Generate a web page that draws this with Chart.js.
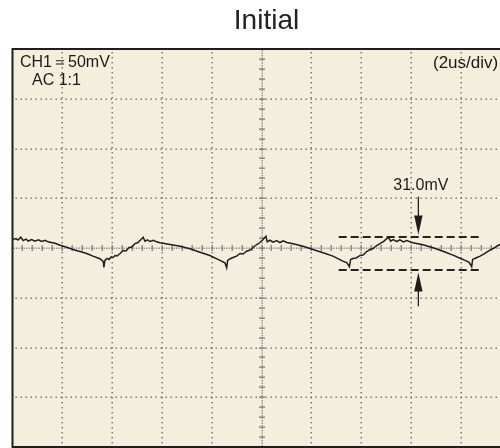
<!DOCTYPE html>
<html>
<head>
<meta charset="utf-8">
<script src="https://cdn.jsdelivr.net/npm/chart.js@4.4.1/dist/chart.umd.min.js"></script>
<style>
  html, body { margin: 0; padding: 0; background: #fff; overflow: hidden; }
  #wrap { width: 530px; height: 448px; }
</style>
</head>
<body>
<div id="wrap"><canvas id="scope" width="530" height="448"></canvas></div>
<script>
// time axis in us (2us/div), voltage in mV (50mV/div)
const timeUs = [
    0.03, 0.14, 0.22, 0.33, 0.43, 0.54, 0.63, 0.77, 0.90, 1.04, 1.17, 1.31, 1.43, 1.51, 1.71, 1.91,
    2.18, 2.43, 2.71, 2.98, 3.23, 3.51, 3.65, 3.67, 3.71,
    3.80, 3.88, 3.96, 4.04, 4.12, 4.20, 4.32, 4.44, 4.56, 4.68, 4.80, 4.92, 5.04, 5.16, 5.25,
    5.32, 5.42, 5.52, 5.66, 5.79, 5.92, 6.33, 6.73, 7.13, 7.53, 7.93, 8.25, 8.53, 8.60, 8.64,
    8.73, 8.86, 9.00, 9.14, 9.26, 9.40, 9.54, 9.66, 9.81, 9.94, 10.06, 10.18,
    10.23, 10.34, 10.47, 10.61, 10.74, 10.87, 11.02, 11.27, 11.67, 12.07, 12.47, 12.87, 13.27, 13.43, 13.53, 13.58,
    13.67, 13.80, 13.96, 14.08, 14.20, 14.36, 14.48, 14.60, 14.76, 14.92, 15.09,
    15.19, 15.29, 15.43, 15.56, 15.70, 15.83, 16.08, 16.49, 16.89, 17.29, 17.69, 18.09, 18.34, 18.44, 18.48,
    18.61, 18.78, 18.94, 19.06, 19.18, 19.34, 19.46, 19.58, 19.78, 19.98
];
const voltageMv = [
    8.5, 9.5, 8, 10.8, 7.5, 9, 7, 8.5, 6.8, 8.2, 6.5, 7.7, 6.2, 5.8, 4.8, 2.8,
    0.8, -1.5, -3.5, -5.5, -8.2, -10.8, -13.8, -19.5, -12.5,
    -10.5, -11.5, -9, -9.5, -7.5, -8, -5.5, -2.5, -3, 0.5, 1, 4.5, 5.5, 8.5, 10.8,
    6.8, 8.2, 6.5, 7.8, 6.2, 5.2, 3.5, 1.8, -0.8, -4.2, -7.5, -11.5, -14.8, -19.8, -12.5,
    -11, -9.5, -8.2, -5.5, -6, -3.2, -2, 0.5, 3.5, 5.5, 8.5, 11.8,
    6.2, 7.8, 5.8, 7.5, 5.5, 7.2, 5.5, 4.2, 1.8, -1.5, -4.8, -8.2, -13.2, -15, -18.8, -11.5,
    -10.5, -10, -7.5, -7, -4, -1.5, -0.5, 2, 4.5, 7, 10.8,
    6.8, 8.5, 6.5, 8.2, 6.2, 7.5, 5.2, 3.2, 0.2, -3.2, -7.2, -11.5, -14.5, -18.8, -11.5,
    -10, -8.2, -6, -4, -2.2, 0, 2, 3.5, 7.5, 10.5
];

// screen divisions
const xDivs = [0, 2, 4, 6, 8, 10, 12, 14, 16, 18, 20];
const yDivs = [-200, -150, -100, -50, 0, 50, 100, 150, 200];

// peak-to-peak cursor
const cursorStart = 13.1;
const cursorEnd = 18.8;
const cursorTop = 11;
const cursorBottom = -22;
const arrowX = 16.3;
const arrowDown = [51.6, 13.5];
const arrowUp = [-58.6, -24.5];
const ppLabel = '31.0mV';
const ppLabelPos = [16.4, 58.5];

const titleText = 'Initial';
const channelText = ['CH1\uFF1D50mV', 'AC 1:1'];
const timebaseText = '(2us/div)';

const FONT = '"Liberation Sans", Arial, Helvetica, sans-serif';

const scopePlugin = {
    id: 'scope',
    beforeDatasetsDraw(chart) {
        const { ctx, chartArea: a, scales: { x, y } } = chart;
        ctx.save();
        ctx.fillStyle = '#f4eedd';
        ctx.fillRect(a.left, a.top, a.right - a.left, a.bottom - a.top);

        // dotted division lines
        ctx.fillStyle = '#6a6a6a';
        xDivs.slice(1, -1).forEach(v => {
            if (v === 10) return;
            const px = Math.round(x.getPixelForValue(v));
            for (let py = a.top + 3; py < a.bottom; py += 5) ctx.fillRect(px - 0.5, py, 1.4, 1.4);
        });
        yDivs.slice(1, -1).forEach(v => {
            if (v === 0) return;
            const py = Math.round(y.getPixelForValue(v));
            for (let px = a.left + 3; px < a.right; px += 5) ctx.fillRect(px, py - 0.5, 1.4, 1.4);
        });

        // centre axes with fine ticks
        const cx = Math.round(x.getPixelForValue(10));
        const cy = Math.round(y.getPixelForValue(0));
        ctx.fillStyle = '#8a8a8a';
        for (let py = a.top + 1; py < a.bottom; py += 2.5) ctx.fillRect(cx - 0.5, py, 1.4, 1.4);
        for (let px = a.left + 1; px < a.right; px += 2.5) ctx.fillRect(px, cy - 0.5, 1.4, 1.4);
        ctx.strokeStyle = '#777';
        ctx.lineWidth = 1.2;
        ctx.beginPath();
        for (let t = 0.4; t < 20; t += 0.4) {
            const px = Math.round(x.getPixelForValue(t)) + 0.2;
            ctx.moveTo(px, cy - 3);
            ctx.lineTo(px, cy + 3);
        }
        for (let m = -190; m < 200; m += 10) {
            const py = Math.round(y.getPixelForValue(m)) + 0.2;
            ctx.moveTo(cx - 3, py);
            ctx.lineTo(cx + 3, py);
        }
        ctx.stroke();
        ctx.restore();
    },
    afterDatasetsDraw(chart) {
        const { ctx, chartArea: a, scales: { x, y } } = chart;
        ctx.save();

        // arrows
        ctx.strokeStyle = '#1e1e1e';
        ctx.fillStyle = '#1e1e1e';
        ctx.lineWidth = 1.3;
        const ax = x.getPixelForValue(arrowX);
        [arrowDown, arrowUp].forEach(([from, to]) => {
            const p0 = y.getPixelForValue(from);
            const p1 = y.getPixelForValue(to);
            const dir = Math.sign(p1 - p0);
            ctx.beginPath();
            ctx.moveTo(ax, p0);
            ctx.lineTo(ax, p1 - dir * 10);
            ctx.stroke();
            ctx.beginPath();
            ctx.moveTo(ax, p1);
            ctx.lineTo(ax - 4.2, p1 - dir * 19);
            ctx.lineTo(ax + 4.2, p1 - dir * 19);
            ctx.closePath();
            ctx.fill();
        });

        // texts
        ctx.fillStyle = '#1a1a1a';
        ctx.font = '16px ' + FONT;
        ctx.textBaseline = 'alphabetic';
        ctx.textAlign = 'center';
        ctx.fillText(ppLabel, x.getPixelForValue(ppLabelPos[0]), y.getPixelForValue(ppLabelPos[1]));
        ctx.textAlign = 'left';
        ctx.fillText(channelText[0], a.left + 7.5, a.top + 18);
        ctx.fillText(channelText[1], a.left + 19.5, a.top + 36);
        ctx.font = '17px ' + FONT;
        ctx.fillText(timebaseText, a.left + 420.5, a.top + 19);

        // border
        ctx.strokeStyle = '#1e1e1e';
        ctx.lineWidth = 2;
        ctx.strokeRect(a.left, a.top, a.right - a.left, a.bottom - a.top);

        // title
        ctx.fillStyle = '#222';
        ctx.font = '28px ' + FONT;
        ctx.textAlign = 'center';
        ctx.fillText(titleText, (a.left + a.right) / 2 + 5, 29);
        ctx.restore();
    }
};

const wave = timeUs.map((t, i) => ({ x: t, y: voltageMv[i] }));

new Chart(document.getElementById('scope'), {
    type: 'line',
    data: {
        datasets: [
            {
                data: wave,
                borderColor: '#1e1e1e',
                borderWidth: 1.5,
                pointRadius: 0,
                tension: 0
            },
            {
                data: [{ x: cursorStart, y: cursorTop }, { x: cursorEnd, y: cursorTop }],
                borderColor: '#222',
                borderWidth: 2,
                borderDash: [8, 4],
                pointRadius: 0
            },
            {
                data: [{ x: cursorStart, y: cursorBottom }, { x: cursorEnd, y: cursorBottom }],
                borderColor: '#222',
                borderWidth: 2,
                borderDash: [8, 4],
                pointRadius: 0
            }
        ]
    },
    options: {
        responsive: false,
        animation: false,
        devicePixelRatio: 1,
        layout: { padding: { left: 12.5, top: 49, right: 19.5, bottom: 1 } },
        scales: {
            x: { type: 'linear', min: 0, max: 20, display: false },
            y: { type: 'linear', min: -200, max: 200, display: false }
        },
        plugins: {
            legend: { display: false },
            title: { display: false },
            tooltip: { enabled: false }
        }
    },
    plugins: [scopePlugin]
});
</script>
</body>
</html>
